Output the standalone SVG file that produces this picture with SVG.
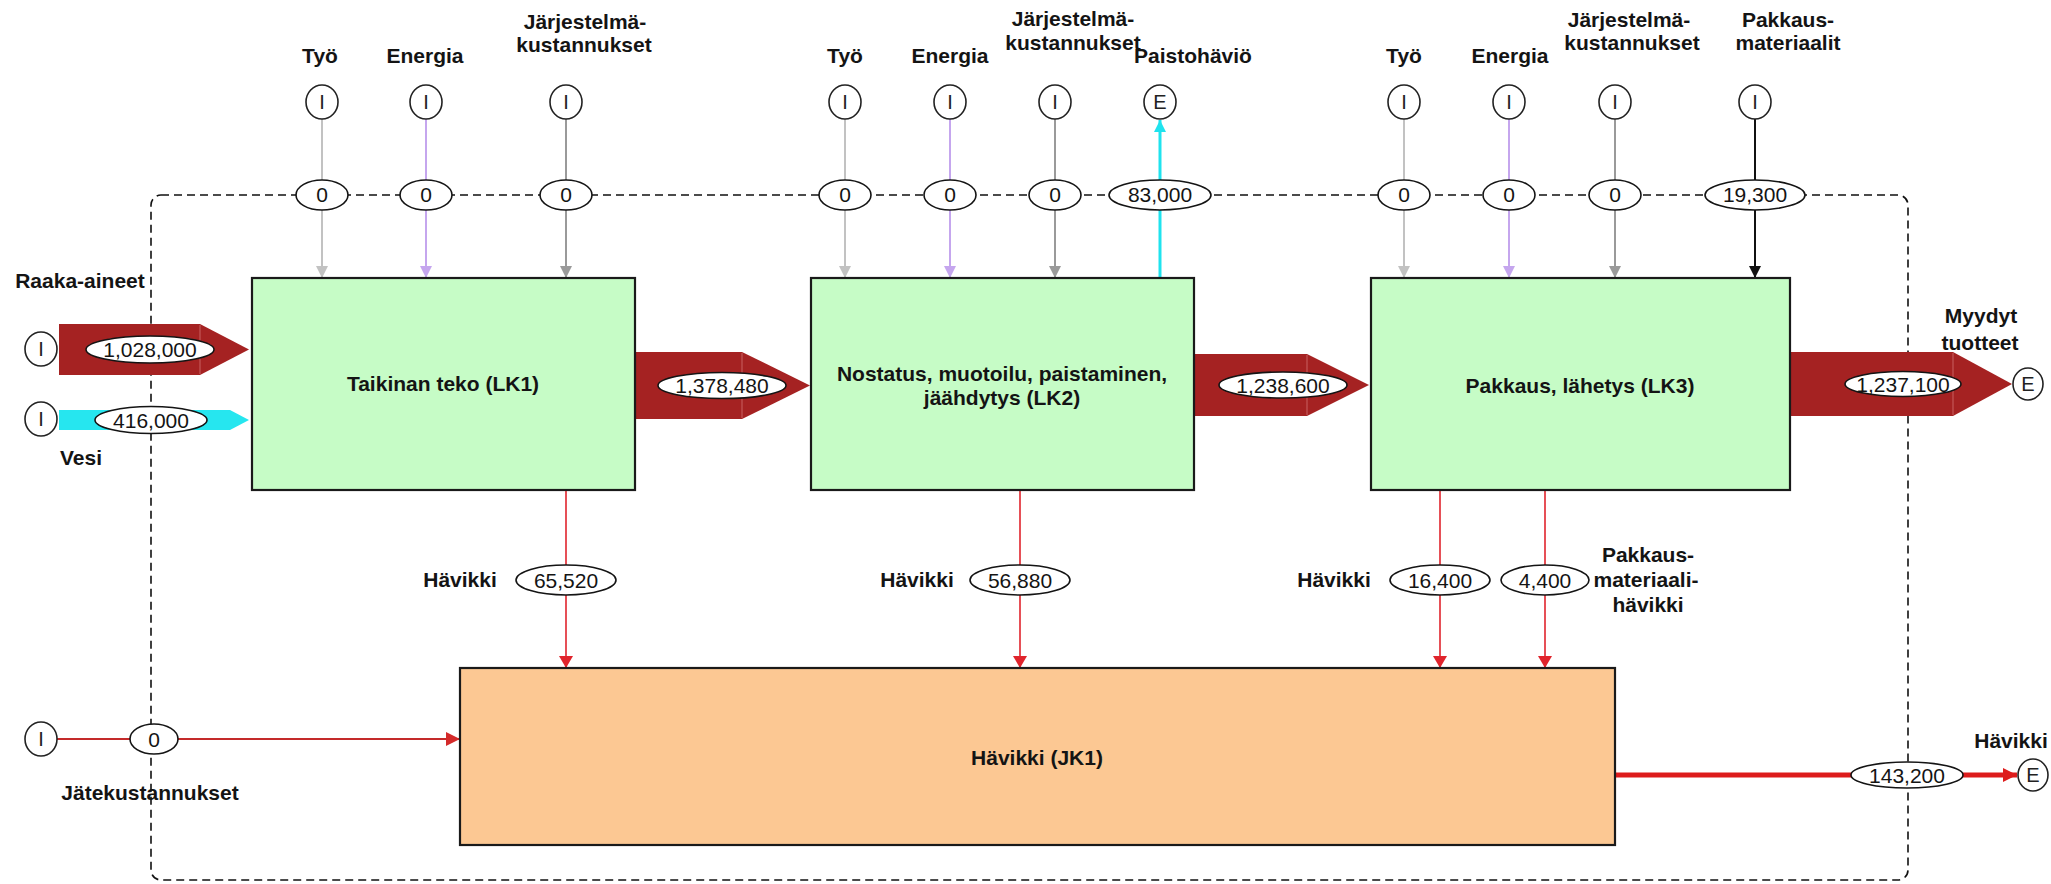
<svg xmlns="http://www.w3.org/2000/svg" width="2051" height="884" viewBox="0 0 2051 884">
<defs>
<style>
.lbl{font-family:"Liberation Sans",Arial,sans-serif;font-weight:bold;font-size:21px;fill:#141414;text-anchor:middle}
.num{font-family:"Liberation Sans",Arial,sans-serif;font-size:21px;fill:#141414;text-anchor:middle}
.tt{font-family:"Liberation Sans",Arial,sans-serif;font-size:20px;fill:#222;text-anchor:middle}
.ov{fill:#fff;stroke:#141414;stroke-width:1.6}
.term{fill:#fff;stroke:#222;stroke-width:1.6}
.proc{fill:#c6fcc6;stroke:#1a1a1a;stroke-width:2.2}
.waste{fill:#fcc893;stroke:#1a1a1a;stroke-width:2.2}
.bound{fill:none;stroke:#111;stroke-width:1.6;stroke-dasharray:8 5}
.big{fill:#a52222}
.seam{stroke:#e08a8a;stroke-width:1;opacity:.6}
</style>
<marker id="mLg" markerUnits="userSpaceOnUse" markerWidth="12" markerHeight="12" refX="12" refY="6" orient="auto"><path d="M0,0 L12,6 L0,12 z" fill="#c2c2c2"/></marker>
<marker id="mLv" markerUnits="userSpaceOnUse" markerWidth="12" markerHeight="12" refX="12" refY="6" orient="auto"><path d="M0,0 L12,6 L0,12 z" fill="#c5a6ee"/></marker>
<marker id="mGr" markerUnits="userSpaceOnUse" markerWidth="12" markerHeight="12" refX="12" refY="6" orient="auto"><path d="M0,0 L12,6 L0,12 z" fill="#9a9a9a"/></marker>
<marker id="mBk" markerUnits="userSpaceOnUse" markerWidth="12" markerHeight="12" refX="12" refY="6" orient="auto"><path d="M0,0 L12,6 L0,12 z" fill="#111"/></marker>
<marker id="mCy" markerUnits="userSpaceOnUse" markerWidth="12" markerHeight="12" refX="12" refY="6" orient="auto"><path d="M0,0 L12,6 L0,12 z" fill="#1fe3ee"/></marker>
<marker id="mRd" markerUnits="userSpaceOnUse" markerWidth="12" markerHeight="14" refX="12" refY="7" orient="auto"><path d="M0,0 L12,7 L0,14 z" fill="#e0242c"/></marker>
<marker id="mRj" markerUnits="userSpaceOnUse" markerWidth="14" markerHeight="14" refX="14" refY="7" orient="auto"><path d="M0,0 L14,7 L0,14 z" fill="#d42a2a"/></marker>
<marker id="mRb" markerUnits="userSpaceOnUse" markerWidth="14" markerHeight="14" refX="14" refY="7" orient="auto"><path d="M0,0 L14,7 L0,14 z" fill="#dd1c1c"/></marker>
</defs>
<rect width="2051" height="884" fill="#fff"/>

<!-- system boundary -->
<rect id="boundary" class="bound" x="151" y="195" width="1757" height="685" rx="10"/>

<!-- top labels -->
<g id="labels">
<text class="lbl" x="320" y="63">Työ</text>
<text class="lbl" x="425" y="63">Energia</text>
<text class="lbl" x="585" y="29">Järjestelmä-</text>
<text class="lbl" x="584" y="52">kustannukset</text>
<text class="lbl" x="845" y="63">Työ</text>
<text class="lbl" x="950" y="63">Energia</text>
<text class="lbl" x="1073" y="26">Järjestelmä-</text>
<text class="lbl" x="1073" y="50">kustannukset</text>
<text class="lbl" x="1193" y="63">Paistohäviö</text>
<text class="lbl" x="1404" y="63">Työ</text>
<text class="lbl" x="1510" y="63">Energia</text>
<text class="lbl" x="1629" y="27">Järjestelmä-</text>
<text class="lbl" x="1632" y="50">kustannukset</text>
<text class="lbl" x="1788" y="27">Pakkaus-</text>
<text class="lbl" x="1788" y="50">materiaalit</text>
<text class="lbl" x="80" y="288">Raaka-aineet</text>
<text class="lbl" x="81" y="465">Vesi</text>
<text class="lbl" x="1981" y="323">Myydyt</text>
<text class="lbl" x="1980" y="350">tuotteet</text>
<text class="lbl" x="460" y="587">Hävikki</text>
<text class="lbl" x="917" y="587">Hävikki</text>
<text class="lbl" x="1334" y="587">Hävikki</text>
<text class="lbl" x="1648" y="562">Pakkaus-</text>
<text class="lbl" x="1646" y="587">materiaali-</text>
<text class="lbl" x="1648" y="612">hävikki</text>
<text class="lbl" x="150" y="800">Jätekustannukset</text>
<text class="lbl" x="2011" y="748">Hävikki</text>
</g>

<!-- connectors -->
<g id="connectors">
<line x1="322" y1="119" x2="322" y2="278" stroke="#c2c2c2" stroke-width="2" marker-end="url(#mLg)"/>
<line x1="426" y1="119" x2="426" y2="278" stroke="#c5a6ee" stroke-width="2" marker-end="url(#mLv)"/>
<line x1="566" y1="119" x2="566" y2="278" stroke="#9a9a9a" stroke-width="2" marker-end="url(#mGr)"/>
<line x1="845" y1="119" x2="845" y2="278" stroke="#c2c2c2" stroke-width="2" marker-end="url(#mLg)"/>
<line x1="950" y1="119" x2="950" y2="278" stroke="#c5a6ee" stroke-width="2" marker-end="url(#mLv)"/>
<line x1="1055" y1="119" x2="1055" y2="278" stroke="#9a9a9a" stroke-width="2" marker-end="url(#mGr)"/>
<line x1="1160" y1="278" x2="1160" y2="120" stroke="#1fe3ee" stroke-width="3" marker-end="url(#mCy)"/>
<line x1="1404" y1="119" x2="1404" y2="278" stroke="#c2c2c2" stroke-width="2" marker-end="url(#mLg)"/>
<line x1="1509" y1="119" x2="1509" y2="278" stroke="#c5a6ee" stroke-width="2" marker-end="url(#mLv)"/>
<line x1="1615" y1="119" x2="1615" y2="278" stroke="#9a9a9a" stroke-width="2" marker-end="url(#mGr)"/>
<line x1="1755" y1="119" x2="1755" y2="278" stroke="#111" stroke-width="2" marker-end="url(#mBk)"/>

<polygon class="big" points="59,324 200,324 249,349.5 200,375 59,375"/>
<line class="seam" x1="200" y1="325" x2="200" y2="374"/>
<polygon fill="#26e6ef" points="59,410 230,410 249,420 230,430 59,430"/>
<polygon class="big" points="635,352 742,352 810,385.5 742,419 635,419"/>
<line class="seam" x1="742" y1="353" x2="742" y2="418"/>
<polygon class="big" points="1194,354 1307,354 1369,385 1307,416 1194,416"/>
<line class="seam" x1="1307" y1="355" x2="1307" y2="415"/>
<polygon class="big" points="1790,352 1953,352 2012,384 1953,416 1790,416"/>
<line class="seam" x1="1953" y1="353" x2="1953" y2="415"/>

<line x1="566" y1="490" x2="566" y2="668" stroke="#e0242c" stroke-width="1.6" marker-end="url(#mRd)"/>
<line x1="1020" y1="490" x2="1020" y2="668" stroke="#e0242c" stroke-width="1.6" marker-end="url(#mRd)"/>
<line x1="1440" y1="490" x2="1440" y2="668" stroke="#e0242c" stroke-width="1.6" marker-end="url(#mRd)"/>
<line x1="1545" y1="490" x2="1545" y2="668" stroke="#e0242c" stroke-width="1.6" marker-end="url(#mRd)"/>

<line x1="57" y1="739" x2="460" y2="739" stroke="#c42a2a" stroke-width="2" marker-end="url(#mRj)"/>
<line x1="1615" y1="775" x2="2017" y2="775" stroke="#dd1c1c" stroke-width="5" marker-end="url(#mRb)"/>
</g>

<!-- flow value ellipses -->
<g id="values">
<ellipse class="ov" cx="322" cy="195" rx="26" ry="15"/><text class="num" x="322" y="202">0</text>
<ellipse class="ov" cx="426" cy="195" rx="26" ry="15"/><text class="num" x="426" y="202">0</text>
<ellipse class="ov" cx="566" cy="195" rx="26" ry="15"/><text class="num" x="566" y="202">0</text>
<ellipse class="ov" cx="845" cy="195" rx="26" ry="15"/><text class="num" x="845" y="202">0</text>
<ellipse class="ov" cx="950" cy="195" rx="26" ry="15"/><text class="num" x="950" y="202">0</text>
<ellipse class="ov" cx="1055" cy="195" rx="26" ry="15"/><text class="num" x="1055" y="202">0</text>
<ellipse class="ov" cx="1160" cy="195" rx="51" ry="15"/><text class="num" x="1160" y="202">83,000</text>
<ellipse class="ov" cx="1404" cy="195" rx="26" ry="15"/><text class="num" x="1404" y="202">0</text>
<ellipse class="ov" cx="1509" cy="195" rx="26" ry="15"/><text class="num" x="1509" y="202">0</text>
<ellipse class="ov" cx="1615" cy="195" rx="26" ry="15"/><text class="num" x="1615" y="202">0</text>
<ellipse class="ov" cx="1755" cy="195" rx="50" ry="15"/><text class="num" x="1755" y="202">19,300</text>
<ellipse class="ov" cx="150" cy="349.5" rx="64" ry="13.5"/><text class="num" x="150" y="357">1,028,000</text>
<ellipse class="ov" cx="151" cy="420" rx="56" ry="13.5"/><text class="num" x="151" y="427.5">416,000</text>
<ellipse class="ov" cx="722" cy="385.5" rx="64" ry="13"/><text class="num" x="722" y="393">1,378,480</text>
<ellipse class="ov" cx="1283" cy="385" rx="64" ry="13"/><text class="num" x="1283" y="392.5">1,238,600</text>
<ellipse class="ov" cx="1903" cy="384" rx="58" ry="12.5"/><text class="num" x="1903" y="391.5">1,237,100</text>
<ellipse class="ov" cx="566" cy="580" rx="50" ry="15"/><text class="num" x="566" y="587.5">65,520</text>
<ellipse class="ov" cx="1020" cy="580" rx="50" ry="15"/><text class="num" x="1020" y="587.5">56,880</text>
<ellipse class="ov" cx="1440" cy="580" rx="50" ry="15"/><text class="num" x="1440" y="587.5">16,400</text>
<ellipse class="ov" cx="1545" cy="580" rx="44" ry="15"/><text class="num" x="1545" y="587.5">4,400</text>
<ellipse class="ov" cx="154" cy="739" rx="24" ry="15"/><text class="num" x="154" y="746.5">0</text>
<ellipse class="ov" cx="1907" cy="775" rx="56" ry="13"/><text class="num" x="1907" y="782.5">143,200</text>
</g>

<!-- terminals -->
<g id="terminals">
<g id="in-tyo1"><ellipse class="term" cx="322" cy="102" rx="16" ry="17"/><text class="tt" x="322" y="109">I</text></g>
<g id="in-energia1"><ellipse class="term" cx="426" cy="102" rx="16" ry="17"/><text class="tt" x="426" y="109">I</text></g>
<g id="in-jarj1"><ellipse class="term" cx="566" cy="102" rx="16" ry="17"/><text class="tt" x="566" y="109">I</text></g>
<g id="in-tyo2"><ellipse class="term" cx="845" cy="102" rx="16" ry="17"/><text class="tt" x="845" y="109">I</text></g>
<g id="in-energia2"><ellipse class="term" cx="950" cy="102" rx="16" ry="17"/><text class="tt" x="950" y="109">I</text></g>
<g id="in-jarj2"><ellipse class="term" cx="1055" cy="102" rx="16" ry="17"/><text class="tt" x="1055" y="109">I</text></g>
<g id="out-paisto"><ellipse class="term" cx="1160" cy="102" rx="16" ry="17"/><text class="tt" x="1160" y="109">E</text></g>
<g id="in-tyo3"><ellipse class="term" cx="1404" cy="102" rx="16" ry="17"/><text class="tt" x="1404" y="109">I</text></g>
<g id="in-energia3"><ellipse class="term" cx="1509" cy="102" rx="16" ry="17"/><text class="tt" x="1509" y="109">I</text></g>
<g id="in-jarj3"><ellipse class="term" cx="1615" cy="102" rx="16" ry="17"/><text class="tt" x="1615" y="109">I</text></g>
<g id="in-pakkaus"><ellipse class="term" cx="1755" cy="102" rx="16" ry="17"/><text class="tt" x="1755" y="109">I</text></g>
<g id="in-raaka"><ellipse class="term" cx="41" cy="349" rx="16" ry="17"/><text class="tt" x="41" y="356">I</text></g>
<g id="in-vesi"><ellipse class="term" cx="41" cy="419" rx="16" ry="17"/><text class="tt" x="41" y="426">I</text></g>
<g id="in-jate"><ellipse class="term" cx="41" cy="739" rx="16" ry="17"/><text class="tt" x="41" y="746">I</text></g>
<g id="out-myydyt"><ellipse class="term" cx="2028" cy="384" rx="15" ry="16"/><text class="tt" x="2028" y="391">E</text></g>
<g id="out-havikki"><ellipse class="term" cx="2033" cy="775" rx="15" ry="16"/><text class="tt" x="2033" y="782">E</text></g>
</g>

<!-- process nodes -->
<g id="LK1"><rect class="proc" x="252" y="278" width="383" height="212"/><text class="lbl" x="443" y="391">Taikinan teko (LK1)</text></g>
<g id="LK2"><rect class="proc" x="811" y="278" width="383" height="212"/><text class="lbl" x="1002" y="381">Nostatus, muotoilu, paistaminen,</text><text class="lbl" x="1002" y="405">jäähdytys (LK2)</text></g>
<g id="LK3"><rect class="proc" x="1371" y="278" width="419" height="212"/><text class="lbl" x="1580" y="393">Pakkaus, lähetys (LK3)</text></g>
<g id="JK1"><rect class="waste" x="460" y="668" width="1155" height="177"/><text class="lbl" x="1037" y="765">Hävikki (JK1)</text></g>
</svg>
